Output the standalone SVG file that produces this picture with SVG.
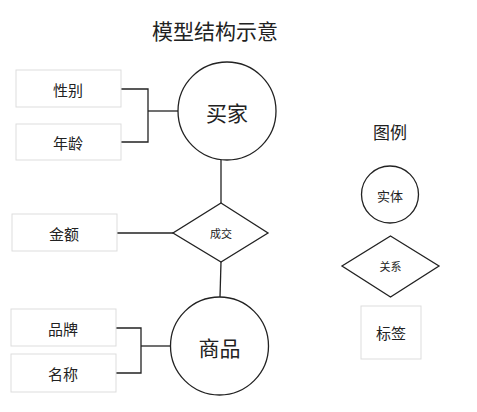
<svg xmlns="http://www.w3.org/2000/svg" width="477" height="412" viewBox="0 0 477 412">
<style>
text{font-family:"Noto Sans CJK SC","Noto Sans",sans-serif;fill:#222;text-anchor:middle;dominant-baseline:central}
.ent{fill:#fff;stroke:#222;stroke-width:1.3}
.lbl{fill:#fff;stroke:#ddd;stroke-width:1}
.conn{fill:none;stroke:#222;stroke-width:1.3}
</style>
<rect width="477" height="412" fill="#fff"/>
<text x="215" y="30" font-size="21">模型结构示意</text>
<g id="conns">
<polyline class="conn" points="121,89 148,89 148,142 121,142"/>
<line class="conn" x1="148" y1="111" x2="178" y2="111"/>
<line class="conn" x1="221" y1="160" x2="221" y2="203"/>
<line class="conn" x1="117" y1="233" x2="173" y2="233"/>
<line class="conn" x1="221" y1="262" x2="220" y2="297"/>
<polyline class="conn" points="116,328 141,328 141,373 116,373"/>
<line class="conn" x1="141" y1="346" x2="171" y2="346"/>
</g>
<g id="gender"><rect class="lbl" x="16" y="70" width="105" height="37"/><text x="68" y="89" font-size="15">性别</text></g>
<g id="age"><rect class="lbl" x="16" y="124" width="105" height="36"/><text x="68" y="142" font-size="15">年龄</text></g>
<g id="buyer"><circle class="ent" cx="227" cy="111" r="49"/><text x="227" y="112" font-size="21">买家</text></g>
<g id="deal"><polygon class="ent" points="221,203 268,233 221,262 173,233"/><text x="221" y="233" font-size="11">成交</text></g>
<g id="amount"><rect class="lbl" x="12" y="214" width="105" height="37"/><text x="64" y="233" font-size="15">金额</text></g>
<g id="goods"><circle class="ent" cx="219.5" cy="346" r="49"/><text x="219.5" y="347" font-size="21">商品</text></g>
<g id="brand"><rect class="lbl" x="11" y="309" width="105" height="37"/><text x="63" y="328" font-size="15">品牌</text></g>
<g id="name"><rect class="lbl" x="11" y="354" width="105" height="38"/><text x="63" y="373" font-size="15">名称</text></g>
<g id="legend">
<text x="390" y="131" font-size="17">图例</text>
<g id="leg-entity"><circle class="ent" cx="390" cy="194.5" r="28.5"/><text x="390" y="195" font-size="13">实体</text></g>
<g id="leg-rel"><polygon class="ent" points="390.5,236 439,266 390.5,297 342,266"/><text x="390.5" y="266" font-size="11">关系</text></g>
<g id="leg-label"><rect class="lbl" x="361" y="306" width="60" height="53"/><text x="391" y="332" font-size="15">标签</text></g>
</g>
</svg>
